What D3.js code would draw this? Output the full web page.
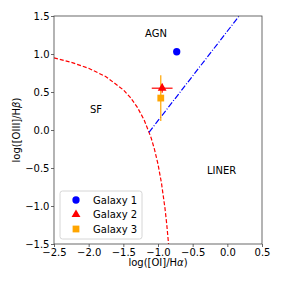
<!DOCTYPE html>
<html>
<head>
<meta charset="utf-8">
<script src="https://cdn.jsdelivr.net/npm/d3@7"></script>
<style>
    body { margin: 0; background: white; }
    text { font-family: "DejaVu Sans", sans-serif; fill: #000; }
</style>
</head>
<body>
<script>
(function () {

    var galaxyNames = ["Galaxy 1", "Galaxy 2", "Galaxy 3"];
    var galaxyX = [-0.73, -0.94, -0.96];
    var galaxyY = [1.03, 0.55, 0.42];
    var galaxyXErr = [0, 0.15, 0];
    var galaxyYErr = [0, 0.06, 0.30];

    //Kewley et al. 2001 maximum starburst line (sampled)
    var sfLineX = [-2.5, -2.25, -2.0, -1.75, -1.5, -1.4, -1.3, -1.2, -1.1, -1.05, -1.0, -0.95, -0.9, -0.875, -0.85, -0.845];
    var sfLineY = [0.948, 0.890, 0.812, 0.701, 0.528, 0.429, 0.302, 0.133, -0.101, -0.257, -0.450, -0.698, -1.025, -1.231, -1.478, -1.533];

    //Seyfert / LINER division
    var agnLineX = [-1.13, 0.17];
    var agnLineY = [-0.03, 1.5];

    var xTicks = [-2.5, -2.0, -1.5, -1.0, -0.5, 0.0, 0.5];
    var yTicks = [-1.5, -1.0, -0.5, 0.0, 0.5, 1.0, 1.5];

    var width = 283,
        height = 283;
    var margin = { left: 54, top: 16, right: 21, bottom: 39 };
    var plotW = width - margin.left - margin.right,
        plotH = height - margin.top - margin.bottom;

    var svg = d3.select("body")
        .append("svg")
        .attr("width", width)
        .attr("height", height);

    var x = d3.scaleLinear().domain([-2.5, 0.5]).range([margin.left, margin.left + plotW]);
    var y = d3.scaleLinear().domain([-1.5, 1.5]).range([margin.top + plotH, margin.top]);

    var fmt = function (d) { return d3.format(".1f")(d).replace("-", "\u2212"); };

    //clip to axes area
    svg.append("clipPath").attr("id", "clip")
        .append("rect")
        .attr("x", margin.left).attr("y", margin.top)
        .attr("width", plotW).attr("height", plotH);

    var plot = svg.append("g").attr("clip-path", "url(#clip)");

    var line = d3.line()
        .x(function (d) { return x(d[0]); })
        .y(function (d) { return y(d[1]); });

    plot.append("path")
        .datum(d3.zip(sfLineX, sfLineY))
        .attr("d", line)
        .attr("fill", "none")
        .attr("stroke", "#ff0000")
        .attr("stroke-width", 1.2)
        .attr("stroke-dasharray", "4,2");

    plot.append("path")
        .datum(d3.zip(agnLineX, agnLineY))
        .attr("d", line)
        .attr("fill", "none")
        .attr("stroke", "#0000ff")
        .attr("stroke-width", 1.2)
        .attr("stroke-dasharray", "6,1.8,1,1.8");

    var colors = ["#0000ff", "#ff0000", "#ffa500"];
    var symbols = [d3.symbolCircle, d3.symbolTriangle, d3.symbolSquare];
    var sizes = [42, 34, 46];

    //error bars
    galaxyNames.forEach(function (name, i) {
        var g = plot.append("g");
        if (galaxyXErr[i] > 0) {
            g.append("line")
                .attr("x1", x(galaxyX[i] - galaxyXErr[i]))
                .attr("x2", x(galaxyX[i] + galaxyXErr[i]))
                .attr("y1", y(galaxyY[i])).attr("y2", y(galaxyY[i]))
                .attr("stroke", colors[i]).attr("stroke-width", 1.2);
        }
        if (galaxyYErr[i] > 0) {
            g.append("line")
                .attr("x1", x(galaxyX[i])).attr("x2", x(galaxyX[i]))
                .attr("y1", y(galaxyY[i] - galaxyYErr[i]))
                .attr("y2", y(galaxyY[i] + galaxyYErr[i]))
                .attr("stroke", colors[i]).attr("stroke-width", 1.2);
        }
    });

    //markers
    galaxyNames.forEach(function (name, i) {
        plot.append("path")
            .attr("d", d3.symbol().type(symbols[i]).size(sizes[i]))
            .attr("transform", "translate(" + x(galaxyX[i]) + "," + y(galaxyY[i]) + ")")
            .attr("fill", colors[i]);
    });

    //region labels
    var labels = [["AGN", 145, 37], ["SF", 90, 113], ["LINER", 207, 174]];
    labels.forEach(function (l) {
        svg.append("text")
            .attr("x", l[1]).attr("y", l[2])
            .attr("font-size", 10)
            .text(l[0]);
    });

    //frame
    svg.append("rect")
        .attr("x", margin.left).attr("y", margin.top)
        .attr("width", plotW).attr("height", plotH)
        .attr("fill", "none")
        .attr("stroke", "#444")
        .attr("stroke-width", 0.8);

    //axes
    var xAxis = svg.append("g")
        .attr("transform", "translate(0," + (margin.top + plotH) + ")")
        .call(d3.axisBottom(x).tickValues(xTicks).tickFormat(fmt).tickSize(3).tickPadding(2));
    var yAxis = svg.append("g")
        .attr("transform", "translate(" + margin.left + ",0)")
        .call(d3.axisLeft(y).tickValues(yTicks).tickFormat(fmt).tickSize(3).tickPadding(1.5));
    [xAxis, yAxis].forEach(function (a) {
        a.select(".domain").remove();
        a.selectAll(".tick line").attr("stroke", "#444").attr("stroke-width", 0.8);
        a.selectAll(".tick text")
            .attr("font-family", "DejaVu Sans")
            .attr("font-size", 10)
            .attr("fill", "#000");
    });

    //axis titles
    var xt = svg.append("text")
        .attr("x", margin.left + plotW / 2)
        .attr("y", 266)
        .attr("text-anchor", "middle")
        .attr("font-size", 10);
    xt.append("tspan").text("log([OI]/H");
    xt.append("tspan").attr("font-style", "italic").text("\u03b1");
    xt.append("tspan").text(")");

    var yt = svg.append("text")
        .attr("transform", "translate(20," + (margin.top + plotH / 2) + ") rotate(-90)")
        .attr("text-anchor", "middle")
        .attr("font-size", 10);
    yt.append("tspan").text("log([OIII]/H");
    yt.append("tspan").attr("font-style", "italic").text("\u03b2");
    yt.append("tspan").text(")");

    //legend
    var legend = svg.append("g");
    legend.append("rect")
        .attr("x", 60).attr("y", 191)
        .attr("width", 82).attr("height", 48)
        .attr("rx", 2.5)
        .attr("fill", "white").attr("fill-opacity", 0.8)
        .attr("stroke", "#cccccc").attr("stroke-width", 0.8);
    galaxyNames.forEach(function (name, i) {
        var ly = 200 + i * 14.5;
        legend.append("path")
            .attr("d", d3.symbol().type(symbols[i]).size(sizes[i]))
            .attr("transform", "translate(76," + ly + ")")
            .attr("fill", colors[i]);
        legend.append("text")
            .attr("x", 93).attr("y", ly + 3.6)
            .attr("font-size", 10)
            .text(name);
    });

})();
</script>
</body>
</html>
